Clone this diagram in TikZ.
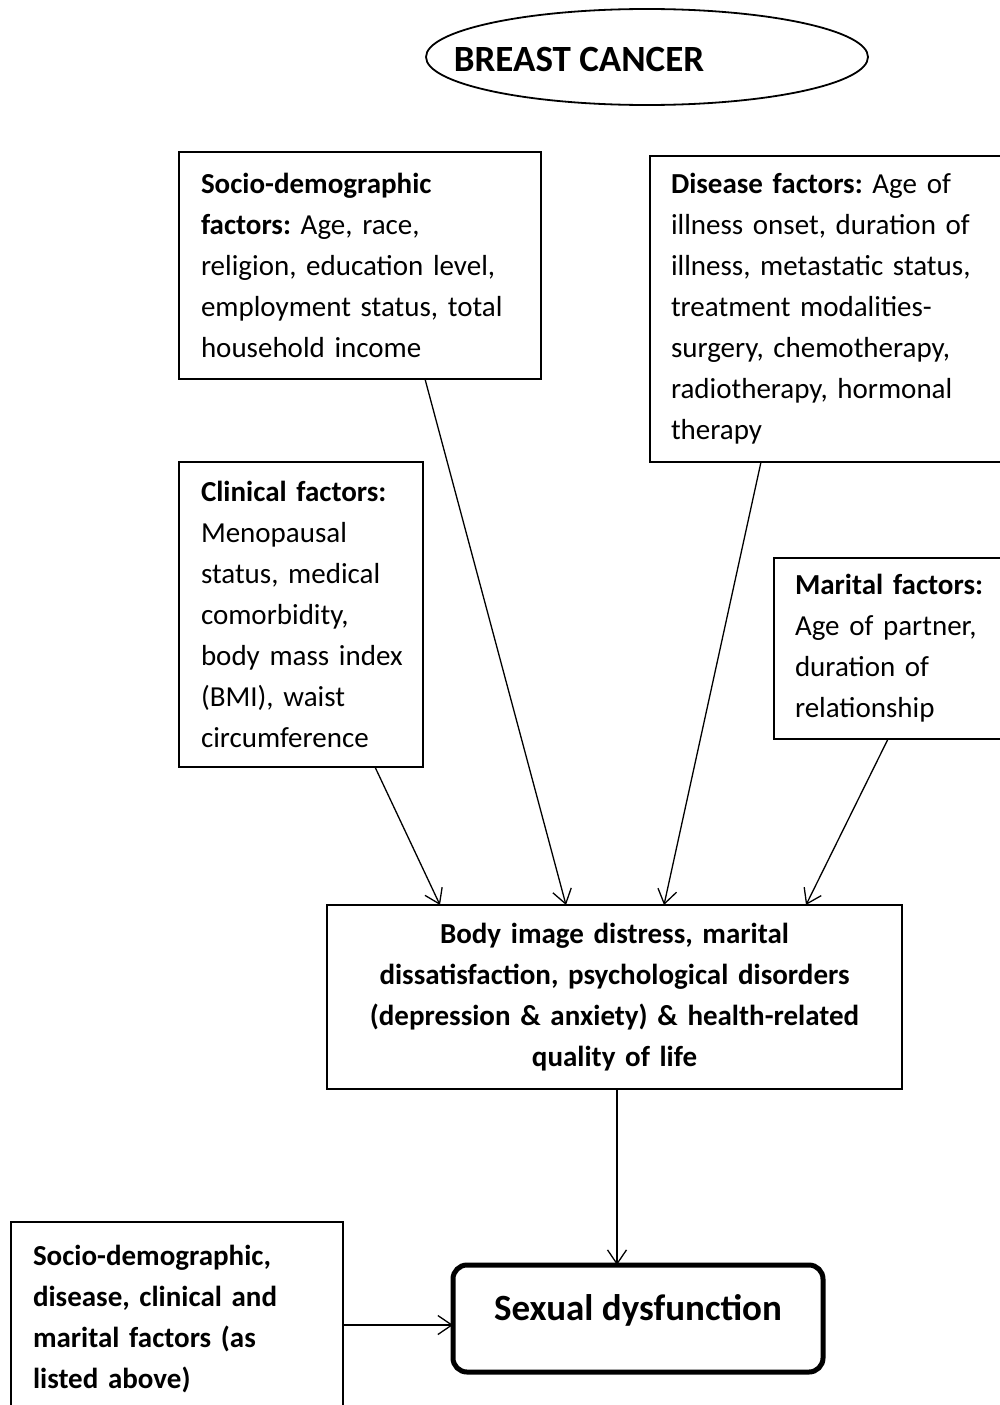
\documentclass[tikz,border=0pt]{standalone}
\usepackage{fontspec}
\setmainfont{Carlito}
\usetikzlibrary{shapes.geometric,arrows.meta,calc}
\newcommand{\bodyfnt}{\fontsize{29}{41}\selectfont\frenchspacing\hyphenpenalty=10000\exhyphenpenalty=10000}
\begin{document}
\begin{tikzpicture}[x=1pt,y=-1pt,
  box/.style={draw,line width=1.6pt,anchor=north west,inner ysep=0pt,outer sep=0pt,font=\bodyfnt},
  lbox/.style={box,align=left},
  arr/.style={line width=1.3pt,-{Straight Barb[length=14pt,width=19pt,line width=1.3pt]}},
  bigbold/.style={font=\bfseries\fontsize{37}{45}\selectfont}]
\useasboundingbox (0,0) rectangle (999,1405);
\fill[white] (0,0) rectangle (999,1405);

\node[draw,ellipse,line width=1.8pt,minimum width=442pt,minimum height=96pt,inner sep=0pt] (bc) at (647,57) {};
\node[bigbold,inner sep=0pt] (bct) at (579,59.5) {BREAST CANCER};

\node[lbox,inner xsep=22pt,text width=318pt,minimum height=227pt] (soc) at (179,152)
  {\textbf{Socio-demographic}\\\textbf{factors:} Age, race,\\religion, education level,\\\mbox{employment status, total}\\household income};
\node[lbox,inner xsep=21pt,text width=318pt,minimum height=306pt] (dis) at (650,156)
  {\textbf{Disease factors:} Age of\\illness onset, duration of\\illness, metastatic status,\\treatment modalities-\\surgery, chemotherapy,\\radiotherapy, hormonal\\therapy};
\node[lbox,inner xsep=22pt,text width=200pt,minimum height=305pt] (clin) at (179,462)
  {\textbf{Clinical factors:}\\Menopausal\\status, medical\\comorbidity,\\\mbox{body mass index}\\(BMI), waist\\circumference};
\node[lbox,inner xsep=21pt,text width=194pt,minimum height=181pt] (mar) at (774,558)
  {\textbf{Marital factors:}\\Age of partner,\\duration of\\relationship};
\node[box,align=center,font=\bodyfnt\bfseries,inner xsep=22pt,text width=531pt,minimum height=184pt] (mid) at (327,905)
  {Body image distress, marital\\dissatisfaction, psychological disorders\\(depression \& anxiety) \& health-related\\quality of life};
\node[lbox,font=\bodyfnt\bfseries,inner xsep=22pt,text width=288pt,minimum height=195pt] (bl) at (11,1222)
  {Socio-demographic,\\disease, clinical and\\marital factors (as\\listed above)};
\node[draw,rounded corners=14pt,line width=5pt,anchor=north west,outer sep=0pt,minimum width=370pt,minimum height=107pt,bigbold] (sex) at (453,1265)
  {\raisebox{8pt}[\height][\depth]{Sexual dysfunction}};

\draw[arr] ($(clin.south west)+(196,0)$) -- ($(mid.north west)+(113,0)$);
\draw[arr] ($(soc.south west)+(246,0)$) -- ($(mid.north west)+(239,0)$);
\draw[arr] ($(dis.south west)+(111,0)$) -- ($(mid.north west)+(337,0)$);
\draw[arr] ($(mar.south west)+(114,0)$) -- ($(mid.north west)+(479,0)$);
\draw[arr] ($(mid.south west)+(290,0)$) -- ($(sex.north west)+(164,0)$);
\draw[arr] ($(bl.north east)+(0,103)$) -- ($(sex.north west)+(0,60)$);
\end{tikzpicture}
\end{document}
